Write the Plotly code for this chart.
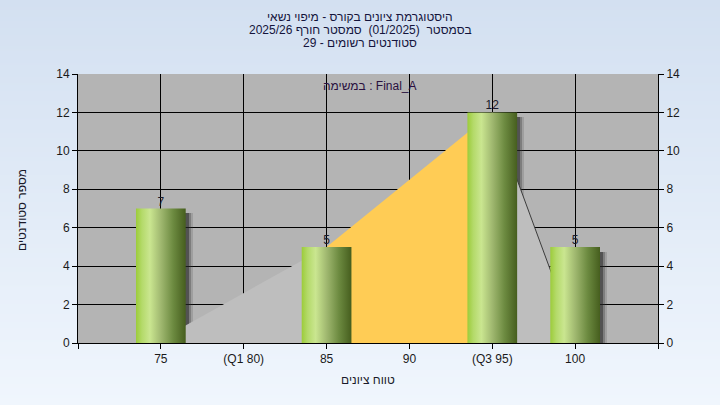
import zlib, struct, base64
import plotly.graph_objects as go

# ---------------- data ----------------
categories = ["75", "(Q1 80)", "85", "90", "(Q3 95)", "100"]
bar_cats = ["75", "85", "(Q3 95)", "100"]
bar_vals = [7, 5, 12, 5]
# distribution outline (category, value)
area_cats = ["75", "85", "(Q3 95)", "100"]
area_vals = [0.2, 5, 12, 0.3]
y_ticks = [0, 2, 4, 6, 8, 10, 12, 14]

title_lines = [
    "היסטוגרמת ציונים בקורס - מיפוי נשאי",
    "בסמסטר  (01/2025)  סמסטר חורף 2025/26",
    "סטודנטים רשומים - 29",
]
x_title = "טווח ציונים"
y_title = "מספר סטודנטים"
task_label = "במשימה : Final_A"

# ---------------- helpers ----------------
idx = {c: i for i, c in enumerate(categories)}
bx = [idx[c] for c in bar_cats]
ax = [idx[c] for c in area_cats]

def png_gradient(h, top, bot):
    raw = b""
    for i in range(h):
        t = i / (h - 1)
        c = [round(top[k] + (bot[k] - top[k]) * t) for k in range(3)]
        raw += b"\x00" + bytes(c)
    def chunk(tag, data):
        return (struct.pack(">I", len(data)) + tag + data
                + struct.pack(">I", zlib.crc32(tag + data) & 0xffffffff))
    png = (b"\x89PNG\r\n\x1a\n"
           + chunk(b"IHDR", struct.pack(">IIBBBBB", 1, h, 8, 2, 0, 0, 0))
           + chunk(b"IDAT", zlib.compress(raw))
           + chunk(b"IEND", b""))
    return "data:image/png;base64," + base64.b64encode(png).decode()

FONT = "Liberation Sans, Arial, sans-serif"
W, H = 720, 405
L, R, T, B = 78, 62, 74, 62
PW, PH = W - L - R, H - T - B

fig = go.Figure()

# light gray region 75 -> 85
fig.add_trace(go.Scatter(
    x=[ax[0], ax[1], ax[1], ax[0]], y=[area_vals[0], area_vals[1], 0, 0],
    fill="toself", fillcolor="#bebebe", mode="none", hoverinfo="skip", showlegend=False))
# yellow region 85 -> Q3 95
fig.add_trace(go.Scatter(
    x=[ax[1], ax[2], ax[2], ax[1]], y=[area_vals[1], area_vals[2], 0, 0],
    fill="toself", fillcolor="#ffcc55", mode="none", hoverinfo="skip", showlegend=False))
# light gray region Q3 95 -> 100
fig.add_trace(go.Scatter(
    x=[ax[2], ax[3], ax[3], ax[2]], y=[area_vals[2], area_vals[3], 0, 0],
    fill="toself", fillcolor="#bebebe", mode="none", hoverinfo="skip", showlegend=False))
fig.add_trace(go.Scatter(
    x=[ax[2], ax[3]], y=[area_vals[2], area_vals[3]], mode="lines",
    line=dict(color="#3c3c3c", width=1), hoverinfo="skip", showlegend=False))

# bar shadows (soft, offset to the right)
bw = 0.6
for xs, col in [(0.085, "rgba(60,60,60,0.18)"), (0.06, "rgba(50,50,50,0.30)"), (0.035, "rgba(30,30,30,0.45)")]:
    fig.add_trace(go.Bar(
        x=bx, y=[v - 0.25 for v in bar_vals], width=bw, offset=-bw / 2 + xs,
        marker=dict(color=col, line=dict(width=0)), hoverinfo="skip", showlegend=False))

# gradient cylinder bars
for x, v in zip(bx, bar_vals):
    fig.add_trace(go.Scatter(
        x=[x - bw / 2, x + bw / 2, x + bw / 2, x - bw / 2, x - bw / 2],
        y=[0, 0, v, v, 0], fill="toself", mode="none",
        fillgradient=dict(type="horizontal", colorscale=[
            [0.0, "#9ccc3a"], [0.12, "#b4da6a"], [0.28, "#cae690"],
            [0.5, "#a0b870"], [0.75, "#6c8a40"], [1.0, "#465e1e"]]),
        hoverinfo="skip", showlegend=False))

# value labels (also anchors right axis)
fig.add_trace(go.Scatter(
    x=bx, y=bar_vals, mode="text", text=[str(v) for v in bar_vals],
    textposition="top center", textfont=dict(family=FONT, size=12, color="#1a1a2a"),
    yaxis="y2", hoverinfo="skip", showlegend=False, cliponaxis=False))

axis_common = dict(showline=True, linecolor="black", linewidth=1, ticks="outside",
                   ticklen=5, tickcolor="black", tickfont=dict(family=FONT, size=12, color="#1a1a1a"),
                   showgrid=True, gridcolor="black", gridwidth=1, zeroline=False)

fig.update_layout(
    width=W, height=H, margin=dict(l=L, r=R, t=T, b=B),
    paper_bgcolor="#e4edf8", plot_bgcolor="rgba(0,0,0,0)",
    barmode="overlay", bargap=0,
    xaxis=dict(range=[-1, len(categories)], tickmode="array",
               tickvals=list(range(-1, len(categories) + 1)),
               ticktext=[""] + categories + [""], mirror=False, **axis_common),
    yaxis=dict(range=[0, 14], tickmode="array", tickvals=y_ticks, **axis_common),
    yaxis2=dict(range=[0, 14], tickmode="array", tickvals=y_ticks, overlaying="y",
                side="right", **{**axis_common, "showgrid": False}),
    images=[dict(source=png_gradient(H, (211, 224, 241), (240, 246, 253)),
                 xref="paper", yref="paper", x=-L / PW, y=1 + T / PH,
                 sizex=W / PW, sizey=H / PH, sizing="stretch", layer="below",
                 xanchor="left", yanchor="top")],
    shapes=[dict(type="rect", xref="paper", yref="paper", x0=0, x1=1, y0=0, y1=1,
                 fillcolor="#b4b4b4", line=dict(width=0), layer="below")],
    showlegend=False,
)

annos = []
cx = (360 - L) / PW
for i, line in enumerate(title_lines):
    ypx = 17 + 13 * i
    annos.append(dict(text=line, xref="paper", yref="paper", x=cx, y=1 + (T - ypx) / PH,
                      xanchor="center", yanchor="middle", showarrow=False,
                      font=dict(family=FONT, size=12, color="#14143c")))
annos.append(dict(text=task_label, xref="paper", yref="paper", x=(370 - L) / PW,
                  y=(343 - 86) / PH, xanchor="center", yanchor="middle", showarrow=False,
                  font=dict(family=FONT, size=12, color="#2a1040")))
annos.append(dict(text=x_title, xref="paper", yref="paper", x=(368 - L) / PW,
                  y=-(380 - 343) / PH, xanchor="center", yanchor="middle", showarrow=False,
                  font=dict(family=FONT, size=12, color="#1a1a2a")))
annos.append(dict(text=y_title, xref="paper", yref="paper", x=-(L - 22) / PW,
                  y=(343 - 210) / PH, xanchor="center", yanchor="middle", showarrow=False,
                  textangle=-90, font=dict(family=FONT, size=12, color="#1a1a2a")))
fig.update_layout(annotations=annos)

fig.write_html("out.html", config={"displayModeBar": False, "staticPlot": True},
               post_script="document.body.style.margin='0';document.body.style.overflow='hidden';")
